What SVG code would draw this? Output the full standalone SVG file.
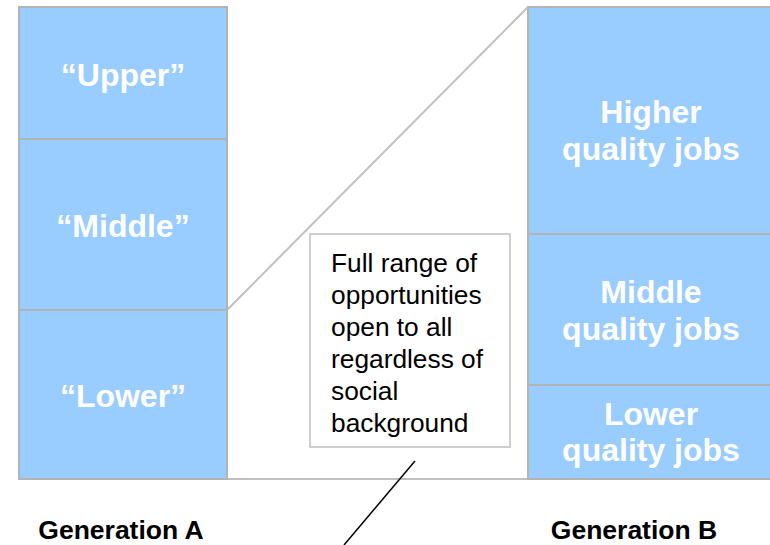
<svg xmlns="http://www.w3.org/2000/svg" width="770" height="545" viewBox="0 0 770 545">
<style>
.blk{fill:#99CCFF;stroke:#B3B3B3;stroke-width:2}
.lbl{font-family:"Liberation Sans",Arial,sans-serif;font-weight:bold;font-size:32px;fill:#FFFFFF;text-anchor:middle}
.gen{font-family:"Liberation Sans",Arial,sans-serif;font-weight:bold;font-size:26.5px;fill:#000000;text-anchor:middle}
.note{font-family:"Liberation Sans",Arial,sans-serif;font-size:26.3px;fill:#000000}
.gl{stroke:#BFBFBF;stroke-width:2;fill:none}
</style>
<rect width="770" height="545" fill="#FFFFFF"/>
<g id="connectors">
<line class="gl" x1="227" y1="479" x2="528" y2="479"/>
<line class="gl" x1="227" y1="310" x2="528" y2="7"/>
<line x1="415" y1="461" x2="344" y2="545" stroke="#000000" stroke-width="1.5"/>
</g>
<g id="upper"><rect class="blk" x="19" y="7" width="208" height="132"/><text class="lbl" x="123" y="86">“Upper”</text></g>
<g id="middle"><rect class="blk" x="19" y="139" width="208" height="171"/><text class="lbl" x="123" y="237">“Middle”</text></g>
<g id="lower"><rect class="blk" x="19" y="310" width="208" height="169"/><text class="lbl" x="123" y="407">“Lower”</text></g>
<g id="higher-jobs"><rect class="blk" x="528" y="7" width="250" height="227"/><text class="lbl" x="651" y="123">Higher</text><text class="lbl" x="651" y="160">quality jobs</text></g>
<g id="middle-jobs"><rect class="blk" x="528" y="234" width="250" height="151"/><text class="lbl" x="651" y="303">Middle</text><text class="lbl" x="651" y="340">quality jobs</text></g>
<g id="lower-jobs"><rect class="blk" x="528" y="385" width="250" height="94"/><text class="lbl" x="651" y="425">Lower</text><text class="lbl" x="651" y="461">quality jobs</text></g>
<g id="note"><rect x="310" y="234" width="200" height="213" fill="#FFFFFF" stroke="#BFBFBF" stroke-width="1.5"/>
<text class="note" x="331" y="272">Full range of</text>
<text class="note" x="331" y="304">opportunities</text>
<text class="note" x="331" y="336">open to all</text>
<text class="note" x="331" y="368">regardless of</text>
<text class="note" x="331" y="400">social</text>
<text class="note" x="331" y="432">background</text>
</g>
<g id="gen-a"><text class="gen" x="121" y="539">Generation A</text></g>
<g id="gen-b"><text class="gen" x="634" y="539">Generation B</text></g>
</svg>
